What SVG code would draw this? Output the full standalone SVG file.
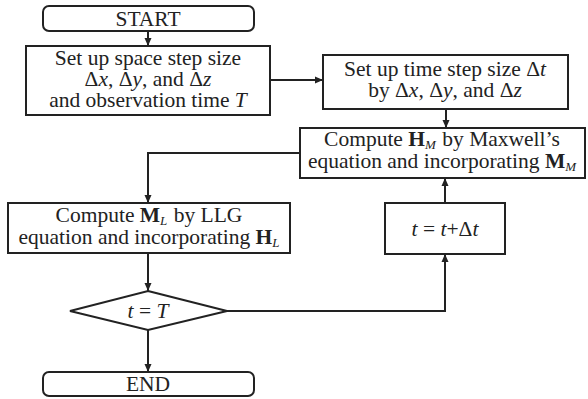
<svg xmlns="http://www.w3.org/2000/svg" width="588" height="399" viewBox="0 0 588 399">
  <style>
    .box { fill: #ffffff; stroke: #222222; stroke-width: 2; }
    .ln { fill: none; stroke: #222222; stroke-width: 2; }
    text { font-family: "Liberation Serif", "Times New Roman", serif; font-size: 21.5px; fill: #222222; text-anchor: middle; }
    .i { font-style: italic; }
    .b { font-weight: bold; }
    .sub { font-size: 13px; font-style: italic; }
  </style>
  <defs>
    <marker id="arrow" viewBox="0 0 8 8" refX="8" refY="4" markerWidth="8" markerHeight="8" markerUnits="userSpaceOnUse" orient="auto">
      <path d="M0,0.5 L8,4 L0,7.5 Z" fill="#222222"/>
    </marker>
  </defs>
  <rect width="588" height="399" fill="#ffffff"/>

  <!-- connectors -->
  <g id="connectors">
    <line class="ln" x1="148" y1="31" x2="148" y2="46" marker-end="url(#arrow)"/>
    <line class="ln" x1="270" y1="80" x2="323" y2="80" marker-end="url(#arrow)"/>
    <line class="ln" x1="446" y1="109" x2="446" y2="128" marker-end="url(#arrow)"/>
    <polyline class="ln" points="300,153 148,153 148,203" marker-end="url(#arrow)"/>
    <line class="ln" x1="148" y1="253" x2="148" y2="291" marker-end="url(#arrow)"/>
    <line class="ln" x1="148" y1="330" x2="148" y2="372" marker-end="url(#arrow)"/>
    <polyline class="ln" points="227,311 445,311 445,254" marker-end="url(#arrow)"/>
    <line class="ln" x1="445" y1="203" x2="445" y2="178" marker-end="url(#arrow)"/>
  </g>

  <g id="start">
    <rect class="box" x="43" y="6" width="211" height="25" rx="6"/>
    <text x="148" y="26">START</text>
  </g>

  <g id="space-step">
    <rect class="box" x="26" y="46" width="244" height="69"/>
    <text x="148" y="65">Set up space step size</text>
    <text x="148" y="86">Δ<tspan class="i">x</tspan>, Δ<tspan class="i">y</tspan>, and Δ<tspan class="i">z</tspan></text>
    <text x="148" y="107">and observation time <tspan class="i">T</tspan></text>
  </g>

  <g id="time-step">
    <rect class="box" x="323" y="55" width="245" height="54"/>
    <text x="445" y="76">Set up time step size Δ<tspan class="i">t</tspan></text>
    <text x="445" y="97">by Δ<tspan class="i">x</tspan>, Δ<tspan class="i">y</tspan>, and Δ<tspan class="i">z</tspan></text>
  </g>

  <g id="compute-h">
    <rect class="box" x="300" y="128" width="285" height="50"/>
    <text x="442" y="146">Compute <tspan class="b">H</tspan><tspan class="sub" dy="3">M</tspan><tspan dx="1" dy="-3"> by Maxwell’s</tspan></text>
    <text x="442" y="168">equation and incorporating <tspan class="b">M</tspan><tspan class="sub" dy="3">M</tspan></text>
  </g>

  <g id="compute-m">
    <rect class="box" x="8" y="203" width="282" height="50"/>
    <text x="149" y="222">Compute <tspan class="b">M</tspan><tspan class="sub" dy="3">L</tspan><tspan dx="1" dy="-3"> by LLG</tspan></text>
    <text x="149" y="244">equation and incorporating <tspan class="b">H</tspan><tspan class="sub" dy="3">L</tspan></text>
  </g>

  <g id="update-t">
    <rect class="box" x="385" y="203" width="120" height="51"/>
    <text x="445" y="236"><tspan class="i">t</tspan> = <tspan class="i">t</tspan>+Δ<tspan class="i">t</tspan></text>
  </g>

  <g id="decision">
    <polygon class="box" points="148,291 227,311 148,330 70,311"/>
    <text x="148" y="318"><tspan class="i">t</tspan> = <tspan class="i">T</tspan></text>
  </g>

  <g id="end">
    <rect class="box" x="43" y="372" width="211" height="24" rx="6"/>
    <text x="148" y="391">END</text>
  </g>
</svg>
